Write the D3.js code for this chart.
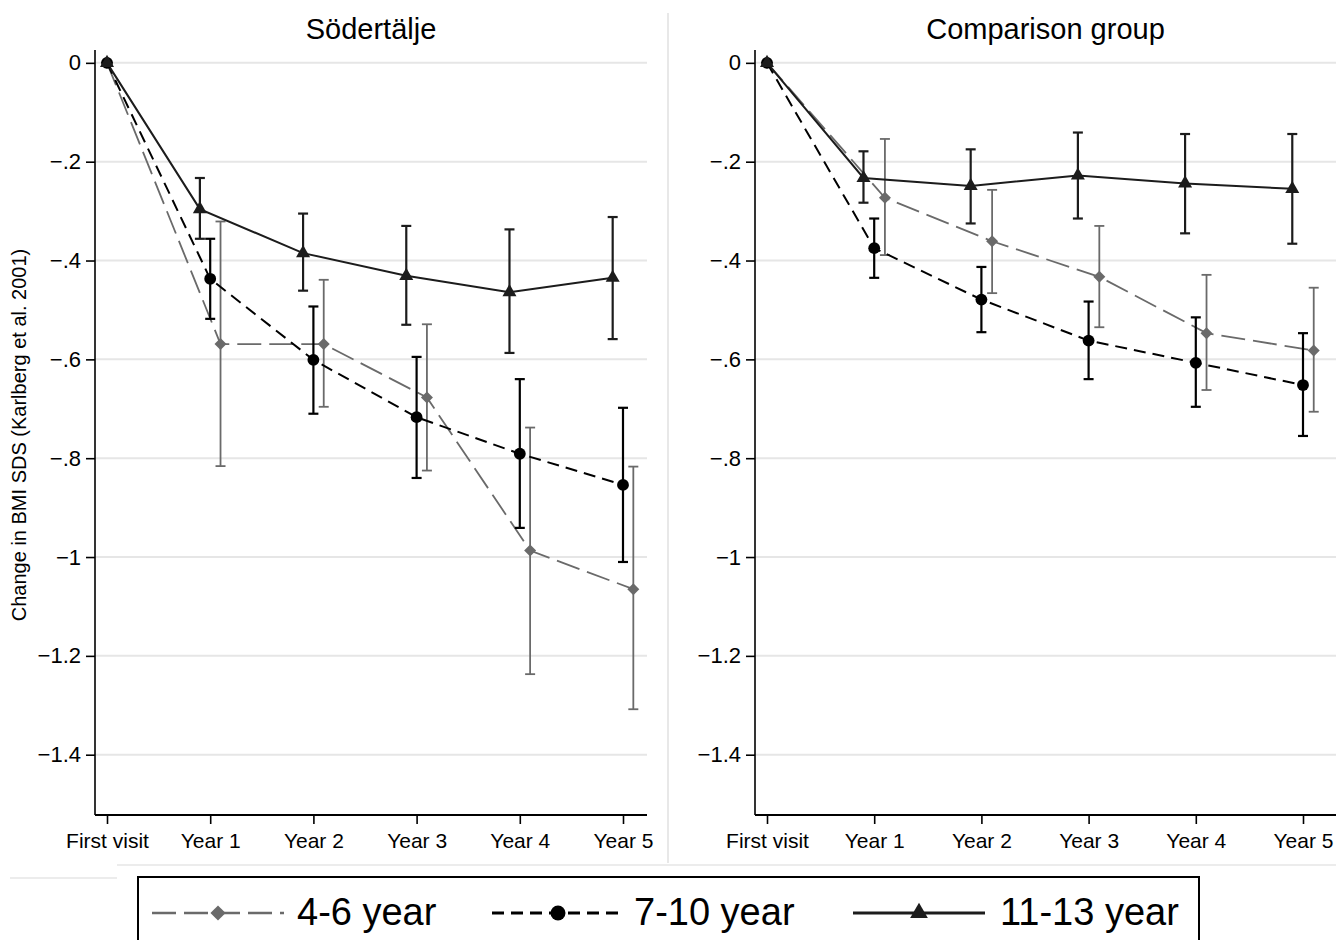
<!DOCTYPE html>
<html>
<head>
<meta charset="utf-8">
<script src="https://cdn.jsdelivr.net/npm/d3@7"></script>
<style>
  body { margin: 0; background: #fff; }
  text { font-family: "Liberation Sans", Arial, Helvetica, sans-serif; fill: #000; }
</style>
</head>
<body>
<svg id="chart" width="1336" height="940"></svg>
<script>
// visits on the x axis
var visits = ["First visit", "Year 1", "Year 2", "Year 3", "Year 4", "Year 5"];
var yTicks = [0, -0.2, -0.4, -0.6, -0.8, -1, -1.2, -1.4];
var yTickLabels = ["0", "\u2212.2", "\u2212.4", "\u2212.6", "\u2212.8", "\u22121", "\u22121.2", "\u22121.4"];
var groups = ["4-6 year", "7-10 year", "11-13 year"];

// Södertälje
var sod46 = [0, -0.569, -0.569, -0.677, -0.987, -1.065];
var sod46Lo = [0, -0.816, -0.696, -0.825, -1.237, -1.308];
var sod46Hi = [0, -0.321, -0.439, -0.529, -0.738, -0.817];
var sod710 = [0, -0.437, -0.601, -0.717, -0.791, -0.854];
var sod710Lo = [0, -0.518, -0.710, -0.840, -0.941, -1.010];
var sod710Hi = [0, -0.356, -0.493, -0.595, -0.640, -0.698];
var sod1113 = [0, -0.296, -0.385, -0.431, -0.464, -0.435];
var sod1113Lo = [0, -0.356, -0.461, -0.530, -0.587, -0.559];
var sod1113Hi = [0, -0.233, -0.305, -0.330, -0.337, -0.312];

// Comparison group
var cmp46 = [0, -0.273, -0.361, -0.433, -0.547, -0.582];
var cmp46Lo = [0, -0.389, -0.466, -0.535, -0.662, -0.706];
var cmp46Hi = [0, -0.154, -0.257, -0.330, -0.429, -0.455];
var cmp710 = [0, -0.375, -0.479, -0.562, -0.607, -0.652];
var cmp710Lo = [0, -0.435, -0.545, -0.640, -0.696, -0.755];
var cmp710Hi = [0, -0.315, -0.413, -0.483, -0.515, -0.547];
var cmp1113 = [0, -0.233, -0.249, -0.228, -0.244, -0.255];
var cmp1113Lo = [0, -0.283, -0.325, -0.315, -0.345, -0.366];
var cmp1113Hi = [0, -0.179, -0.175, -0.141, -0.144, -0.144];

var svg = d3.select("#chart");

// diamond = square turned 45 degrees
var styles = [
  { color: "#6a6a6a", dash: "24,8", width: 1.8, shape: d3.symbolSquare, rot: 45, size: 72, offset: 0.1 },
  { color: "#000", dash: "12,7", width: 2, shape: d3.symbolCircle, rot: 0, size: 110, offset: 0 },
  { color: "#1c1c1c", dash: null, width: 2, shape: d3.symbolTriangle, rot: 0, size: 85, offset: -0.1 }
];

var yScale = d3.scaleLinear().domain([0.026, -1.522]).range([50, 815]);

function pack(m, lo, hi) {
  return visits.map(function(v, i) { return { visit: v, i: i, mean: m[i], lo: lo[i], hi: hi[i] }; });
}

function drawPanel(title, xRange, axisStart, axisEnd, series) {
  var xScale = d3.scalePoint().domain(visits).range(xRange);
  var step = xScale.step();
  var g = svg.append("g");

  // grid
  g.selectAll(".grid").data(yTicks).enter().append("line")
    .attr("x1", axisStart).attr("x2", axisEnd)
    .attr("y1", function(d) { return yScale(d); })
    .attr("y2", function(d) { return yScale(d); })
    .attr("stroke", "#e6e6e6").attr("stroke-width", 2);

  // y axis
  var yAxis = g.append("g")
    .attr("transform", "translate(" + axisStart + ",0)")
    .call(d3.axisLeft(yScale).tickValues(yTicks).tickSize(9).tickPadding(5)
      .tickFormat(function(d, i) { return yTickLabels[i]; }));
  yAxis.select(".domain").attr("d", "M0," + yScale.range()[0] + "V" + yScale.range()[1])
    .attr("stroke-width", 1.6);
  yAxis.selectAll(".tick line").attr("stroke-width", 1.6);
  yAxis.selectAll("text").style("font-size", "22px").attr("fill", "#000");

  // x axis
  var xAxis = g.append("g")
    .attr("transform", "translate(0,815)")
    .call(d3.axisBottom(xScale).tickSize(9).tickPadding(9));
  xAxis.select(".domain").attr("d", "M" + axisStart + ",0H" + axisEnd).attr("stroke-width", 2);
  xAxis.selectAll(".tick line").attr("stroke-width", 1.6);
  xAxis.selectAll("text").style("font-size", "21px").attr("fill", "#000");

  svg.append("text")
    .attr("x", (axisStart + axisEnd) / 2).attr("y", 39)
    .attr("text-anchor", "middle").style("font-size", "29px")
    .text(title);

  function xPos(d, s) { return xScale(d.visit) + (d.i > 0 ? s.offset * step : 0); }

  series.forEach(function(data, k) {
    var s = styles[k];
    var line = d3.line()
      .x(function(d) { return xPos(d, s); })
      .y(function(d) { return yScale(d.mean); });
    g.append("path").datum(data)
      .attr("d", line).attr("fill", "none")
      .attr("stroke", s.color).attr("stroke-width", s.width)
      .attr("stroke-dasharray", s.dash);

    var bars = data.filter(function(d) { return d.i > 0; });
    var eb = g.append("g").attr("stroke", s.color).attr("stroke-width", k === 0 ? 1.8 : 2.2).attr("fill", "none");
    eb.selectAll(".v").data(bars).enter().append("line")
      .attr("x1", function(d) { return xPos(d, s); }).attr("x2", function(d) { return xPos(d, s); })
      .attr("y1", function(d) { return yScale(d.lo); }).attr("y2", function(d) { return yScale(d.hi); });
    ["lo", "hi"].forEach(function(key) {
      eb.selectAll(".c" + key).data(bars).enter().append("line")
        .attr("x1", function(d) { return xPos(d, s) - 5; }).attr("x2", function(d) { return xPos(d, s) + 5; })
        .attr("y1", function(d) { return yScale(d[key]); }).attr("y2", function(d) { return yScale(d[key]); });
    });
  });

  // markers on top
  series.forEach(function(data, k) {
    var s = styles[k];
    g.selectAll(".m" + k).data(data).enter().append("path")
      .attr("d", d3.symbol().type(s.shape).size(s.size))
      .attr("transform", function(d) {
        return "translate(" + xPos(d, s) + "," + yScale(d.mean) + ") rotate(" + s.rot + ")";
      })
      .attr("fill", s.color);
  });
}

drawPanel("Södertälje", [107, 623], 95, 647, [
  pack(sod46, sod46Lo, sod46Hi),
  pack(sod710, sod710Lo, sod710Hi),
  pack(sod1113, sod1113Lo, sod1113Hi)
]);
drawPanel("Comparison group", [767, 1303], 755, 1336, [
  pack(cmp46, cmp46Lo, cmp46Hi),
  pack(cmp710, cmp710Lo, cmp710Hi),
  pack(cmp1113, cmp1113Lo, cmp1113Hi)
]);

// y axis title
svg.append("text")
  .attr("transform", "translate(26,435) rotate(-90)")
  .attr("text-anchor", "middle").style("font-size", "20px")
  .text("Change in BMI SDS (Karlberg et al. 2001)");

// faint panel borders
svg.append("line").attr("x1", 668).attr("x2", 668).attr("y1", 13).attr("y2", 863)
  .attr("stroke", "#e8e8e8").attr("stroke-width", 2);
svg.append("line").attr("x1", 117).attr("x2", 1336).attr("y1", 865).attr("y2", 865)
  .attr("stroke", "#ececec").attr("stroke-width", 2);
svg.append("line").attr("x1", 10).attr("x2", 117).attr("y1", 878).attr("y2", 878)
  .attr("stroke", "#ececec").attr("stroke-width", 2);

// legend
var legend = svg.append("g");
legend.append("rect").attr("x", 138).attr("y", 877).attr("width", 1061).attr("height", 100)
  .attr("fill", "#fff").attr("stroke", "#000").attr("stroke-width", 2);
var legendX = [152, 492, 853];
var legendText = [297, 634, 1000];
groups.forEach(function(name, k) {
  var s = styles[k];
  legend.append("line")
    .attr("x1", legendX[k]).attr("x2", legendX[k] + 132)
    .attr("y1", 913).attr("y2", 913)
    .attr("stroke", s.color).attr("stroke-width", s.width + 0.8)
    .attr("stroke-dasharray", s.dash);
  legend.append("path")
    .attr("d", d3.symbol().type(s.shape).size(s.size * 1.6))
    .attr("transform", "translate(" + (legendX[k] + 66) + ",913) rotate(" + s.rot + ")")
    .attr("fill", s.color);
  legend.append("text")
    .attr("x", legendText[k]).attr("y", 925)
    .style("font-size", "38px")
    .text(name);
});
</script>
</body>
</html>
